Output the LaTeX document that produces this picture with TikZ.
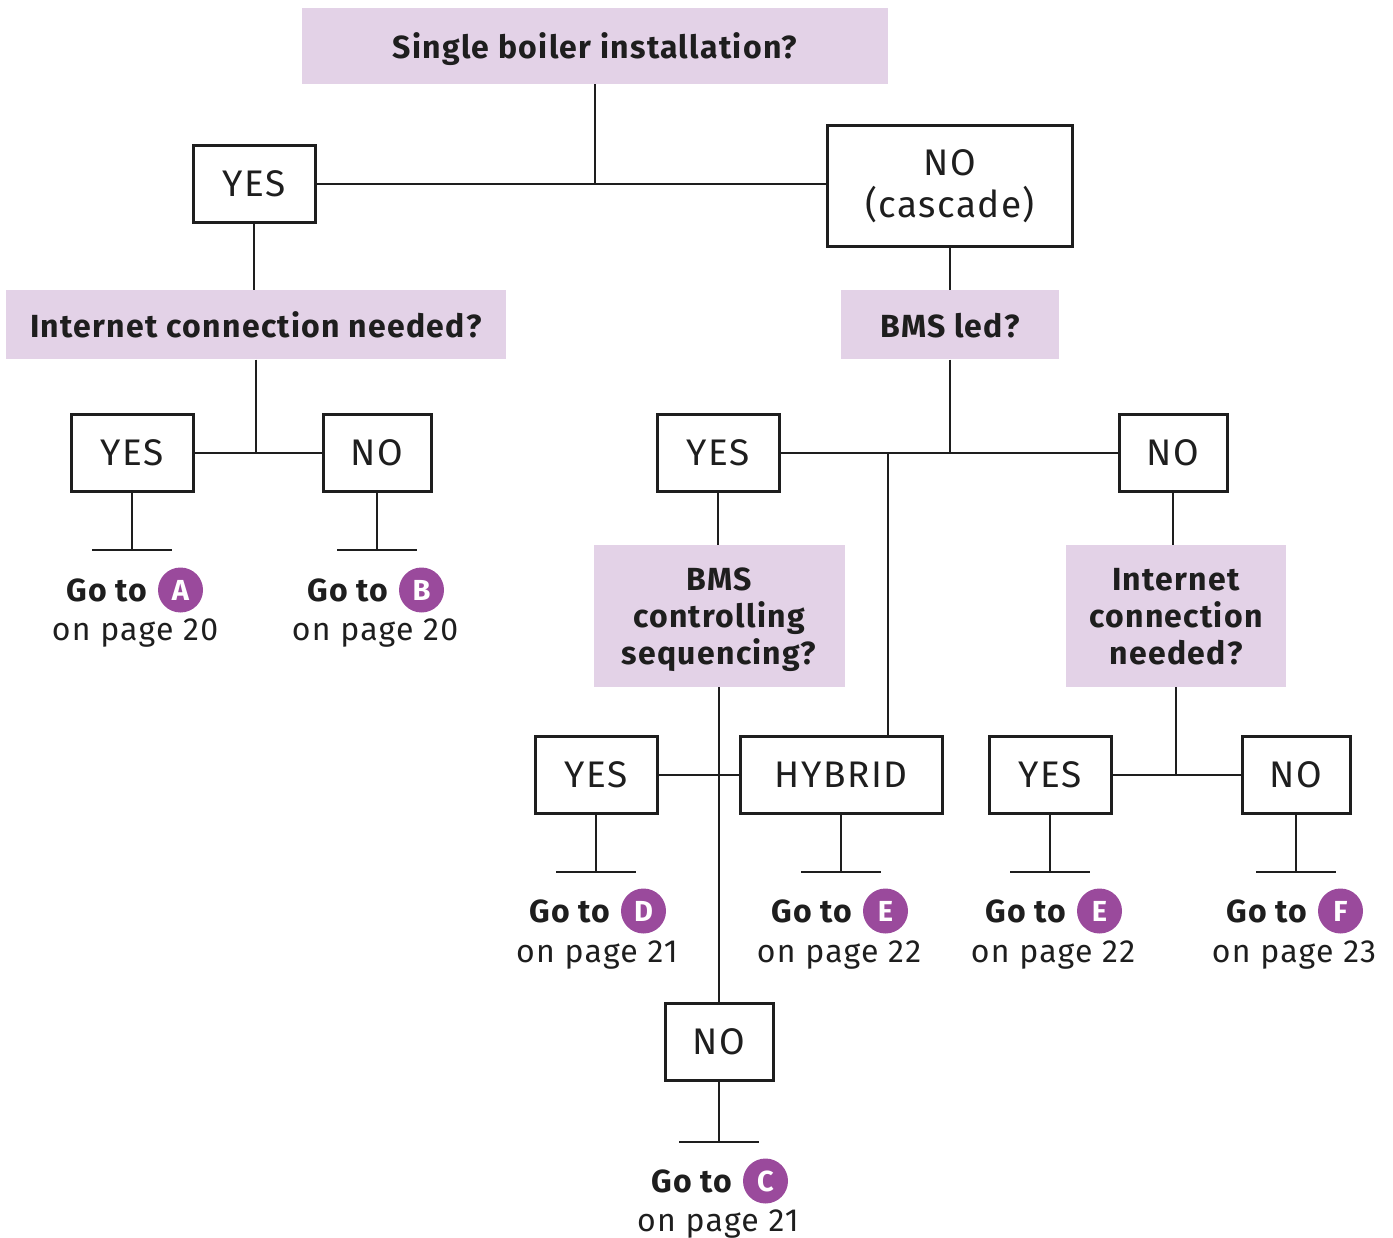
\documentclass[tikz,border=0pt]{standalone}
\usepackage{fontspec}
\setmainfont{Fira Sans}[LetterSpace=4]
\usetikzlibrary{positioning}
\definecolor{qfill}{HTML}{E3D2E7}
\definecolor{badgepurple}{HTML}{9A4A9C}
\definecolor{ink}{HTML}{1E1E1E}

\tikzset{
  question/.style={fill=qfill, text=ink, align=center, inner sep=0pt, text depth=0pt,
    font=\fontsize{32}{37}\selectfont\bfseries},
  answer/.style={draw=ink, line width=3pt, text=ink, align=center, inner sep=0pt,
    minimum height=77pt, font=\fontsize{37}{42}\selectfont},
  link/.style={draw=ink, line width=2.5pt},
  gotxt/.style={text=ink, inner sep=0pt, font=\fontsize{32}{36}\selectfont\bfseries},
  pagetxt/.style={text=ink, inner sep=0pt, font=\fontsize{32}{36}\selectfont},
  badge/.style={circle, fill=badgepurple, text=white, minimum size=45pt, inner sep=0pt,
    font=\fontsize{29}{30}\selectfont\bfseries},
}

% stub below an answer: line down, then a short bar
\newcommand{\stubbar}[3]{%
  \draw[link] (#1.south) -- ++(0,#2) coordinate (#3);
  \draw[link] ([xshift=-40pt]#3) -- ([xshift=40pt]#3);
}

\begin{document}
\begin{tikzpicture}[x=1pt, y=-1pt]
  \useasboundingbox (0,0) rectangle (1393,1238);

  % Questions
  \node[question, minimum width=586pt, minimum height=76pt] (single) at (595,46) {Single boiler installation?};
  \node[question, minimum width=500pt, minimum height=69pt] (netA) at (256,325) {Internet connection needed?};
  \node[question, minimum width=218pt, minimum height=69pt] (bms) at (950,325) {BMS led?};
  \node[question, minimum width=251pt, minimum height=142pt] (bmsseq) at (719,616) {BMS\\controlling\\sequencing?};
  \node[question, minimum width=220pt, minimum height=142pt] (netB) at (1176,616) {Internet\\connection\\needed?};

  % Answers
  \node[answer, minimum width=122pt] (single-yes) at (254,184) {YES};
  \node[answer, minimum width=245pt, minimum height=121pt] (single-no) at (950,186) {NO\\(cascade)};
  \node[answer, minimum width=122pt] (netA-yes) at (132,453) {YES};
  \node[answer, minimum width=108pt] (netA-no) at (377,453) {NO};
  \node[answer, minimum width=122pt] (bms-yes) at (718,453) {YES};
  \node[answer, minimum width=108pt] (bms-no) at (1173,453) {NO};
  \node[answer, minimum width=122pt] (seq-yes) at (596,775) {YES};
  \node[answer, minimum width=202pt] (seq-hybrid) at (841,775) {HYBRID};
  \node[answer, minimum width=108pt] (seq-no) at (719,1042) {NO};
  \node[answer, minimum width=122pt] (netB-yes) at (1050,775) {YES};
  \node[answer, minimum width=108pt] (netB-no) at (1296,775) {NO};

  % Connectors
  \draw[link] (single.south) -- (single.south |- single-yes.east);
  \draw[link] (single-yes) -- (single-yes -| single-no.west);
  \draw[link] (single-yes.south) -- (single-yes.south |- netA.north);
  \draw[link] (netA.south) -- (netA.south |- netA-yes.east);
  \draw[link] (netA-yes) -- (netA-no);
  \draw[link] (single-no.south) -- (single-no.south |- bms.north);
  \draw[link] (bms.south) -- (bms.south |- bms-yes.east);
  \draw[link] (bms-yes) -- (bms-no);
  \coordinate (hyb-join) at (888,453);
  \draw[link] (hyb-join) -- (hyb-join |- seq-hybrid.north);
  \draw[link] (bms-yes.south) -- (bms-yes.south |- bmsseq.north);
  \draw[link] (bmsseq.south) -- (bmsseq.south |- seq-no.north);
  \draw[link] (seq-yes) -- (seq-hybrid);
  \draw[link] (bms-no.south) -- (bms-no.south |- netB.north);
  \draw[link] (netB.south) -- (netB.south |- netB-yes.east);
  \draw[link] (netB-yes) -- (netB-no);

  % Stubs
  \stubbar{netA-yes}{57}{endA}
  \stubbar{netA-no}{57}{endB}
  \stubbar{seq-yes}{57}{endD}
  \stubbar{seq-hybrid}{57}{endE}
  \stubbar{netB-yes}{57}{endE2}
  \stubbar{netB-no}{57}{endF}
  \stubbar{seq-no}{60}{endC}

  % Go to labels
  \node[gotxt] (goA) at (135-28,590) {Go to};
  \node[badge, right=10pt of goA] (badgeA) {A};
  \node[pagetxt] (pageA) at (135,633) {on page 20};

  \node[gotxt] (goB) at (376-28,590) {Go to};
  \node[badge, right=10pt of goB] (badgeB) {B};
  \node[pagetxt] (pageB) at (375,633) {on page 20};

  \node[gotxt] (goD) at (598-28,911) {Go to};
  \node[badge, right=10pt of goD] (badgeD) {D};
  \node[pagetxt] (pageD) at (597,955) {on page 21};

  \node[gotxt] (goE) at (840-28,911) {Go to};
  \node[badge, right=10pt of goE] (badgeE) {E};
  \node[pagetxt] (pageE) at (839,955) {on page 22};

  \node[gotxt] (goE2) at (1054-28,911) {Go to};
  \node[badge, right=10pt of goE2] (badgeE2) {E};
  \node[pagetxt] (pageE2) at (1053,955) {on page 22};

  \node[gotxt] (goF) at (1295-28,911) {Go to};
  \node[badge, right=10pt of goF] (badgeF) {F};
  \node[pagetxt] (pageF) at (1294,955) {on page 23};

  \node[gotxt] (goC) at (720-28,1181) {Go to};
  \node[badge, right=10pt of goC] (badgeC) {C};
  \node[pagetxt] (pageC) at (718,1224) {on page 21};
\end{tikzpicture}
\end{document}
